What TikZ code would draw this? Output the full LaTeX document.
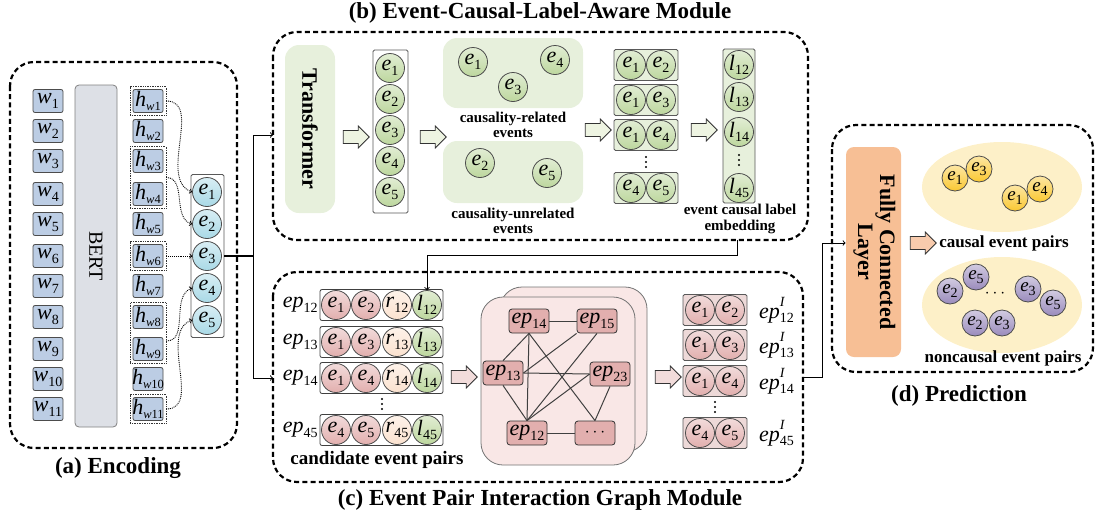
\documentclass[tikz,border=0pt]{standalone}
\usepackage{fontspec}
\setmainfont{Liberation Serif}
\usepackage{graphicx}
\usetikzlibrary{positioning,fit,shapes.arrows,shapes.geometric}

\definecolor{encBlue}{HTML}{BCCDE4}
\definecolor{encCyan}{HTML}{A9D9E6}
\definecolor{bertGray}{HTML}{DDE0E6}
\definecolor{clGreen}{HTML}{BDD79E}
\definecolor{clPale}{HTML}{E7F0DC}
\definecolor{arrGreen}{HTML}{EEF4E2}
\definecolor{epPink}{HTML}{E2AFAE}
\definecolor{epPale}{HTML}{EDD9D8}
\definecolor{epPeach}{HTML}{FBE2CF}
\definecolor{arrPink}{HTML}{F2DCDB}
\definecolor{graphBg}{HTML}{F9E7E6}
\definecolor{fcOrange}{HTML}{F7BF95}
\definecolor{arrOrange}{HTML}{F8CBAD}
\definecolor{predYellow}{HTML}{FDF0C8}
\definecolor{pairGold}{HTML}{FAC832}
\definecolor{pairViolet}{HTML}{9A8BBC}

% variable with index, set as text so it matches the serif body
\newcommand{\vfont}{\fontsize{22}{24}\selectfont}
\newcommand{\idx}[1]{\raisebox{-0.45ex}{\fontsize{14}{14}\selectfont #1}}
\newcommand{\vv}[2]{\textit{#1}\idx{#2}}
\newcommand{\hv}[1]{\textit{h}\raisebox{-0.45ex}{\fontsize{12.5}{12.5}\selectfont\textit{w}#1}}
\newcommand{\epI}[1]{\textit{ep}\rlap{\raisebox{1.15ex}{\fontsize{14}{14}\selectfont\textit{I}}}\idx{#1}}
% three stacked dots at a named coordinate
\newcommand{\colDots}[1]{\foreach \d in {-5,0,5} \fill ([yshift=\d pt]#1) circle (1.1pt);}

\tikzset{
  panel/.style={draw=black, line width=2.2pt, dash pattern=on 5pt off 3.2pt, rounded corners=24pt},
  title/.style={font=\fontsize{23}{25}\selectfont\bfseries},
  note/.style={font=\fontsize{15}{15.5}\selectfont\bfseries, align=center},
  caption/.style={font=\fontsize{17}{19}\selectfont\bfseries},
  tok/.style={draw=black!70, fill=encBlue, rounded corners=2pt, minimum width=30pt, minimum height=23pt, inner sep=0pt, font=\vfont},
  grp/.style={draw=black!80, densely dotted, line width=0.7pt, inner sep=2.5pt},
  ball/.style={circle, draw=black!70, minimum size=29pt, inner sep=0pt, font=\vfont, top color=#1!45, bottom color=#1},
  ball/.default=clGreen,
  smallball/.style={ball=#1, minimum size=26pt, font=\fontsize{19}{19}\selectfont},
  column/.style={draw=black!65, fill=clPale, rounded corners=1.5pt, inner sep=0pt},
  softbox/.style={fill=clPale, rounded corners=14pt, inner sep=0pt},
  hollow/.style={single arrow, draw=black!80, fill=#1, minimum height=26pt, minimum width=22pt, single arrow head extend=4pt, inner sep=5.5pt},
  gnode/.style={draw=black!80, fill=epPink, rounded corners=3pt, minimum width=40pt, minimum height=24pt, inner sep=1pt, font=\vfont},
  gedge/.style={draw=black!75, line width=1pt},
  conn/.style={draw=black, line width=1pt},
  dotarr/.style={->, densely dotted, line width=0.9pt},
}

\begin{document}
\begin{tikzpicture}[x=1pt,y=-1pt,>=to,line width=0.8pt]
\useasboundingbox (0,0) rectangle (1097,515);

% ---------- (a) encoding ----------
\draw[panel] (10,62) rectangle (237,448);
\node[title] (capA) at (118,468) {(a) Encoding};
\node[draw=black!50, fill=bertGray, rounded corners=4pt, minimum width=42pt, minimum height=342pt,
      font=\fontsize{20}{20}\selectfont] (bert) at (96,256) {\rotatebox{-90}{BERT}};
\foreach \i/\y in {1/101,2/131,3/161,4/194,5/224,6/256,7/286,8/317,9/349,10/379,11/409}{
  \node[tok] (w\i) at (48,\y) {\makebox[28pt]{\vv{w}{\i}}};
  \node[tok] (h\i) at (148,\y) {\makebox[27pt]{\hv{\i}}};
}
\node[grp, fit=(h1)] (g1) {};
\node[grp, fit=(h3)(h4)] (g2) {};
\node[grp, fit=(h6)] (g3) {};
\node[grp, fit=(h8)(h9)] (g4) {};
\node[grp, fit=(h11)] (g5) {};
\node[column, fill=white, minimum width=33pt, minimum height=163pt] (encCol) at (207.5,256) {};
\foreach \i/\y in {1/192,2/224,3/256,4/288,5/320}
  \node[ball=encCyan] (ea\i) at (207,\y) {\vv{e}{\i}};
\draw[dotarr] (g1.east) to[out=0,in=160] (ea1.west);
\draw[dotarr] (g2.east) to[out=0,in=165] (ea2.west);
\draw[dotarr] (g3.east) -- (ea3.west);
\draw[dotarr] ([yshift=-8pt]g4.east) to[out=0,in=200] (ea4.west);
\draw[dotarr] (g5.east) to[out=0,in=200] (ea5.west);

\coordinate (fork) at (253,256);
\coordinate (toB) at (273,135);
\coordinate (toC) at (273,378);
\draw[conn, line width=1.4pt] (encCol.east |- ea3) -- (fork);
\draw[conn,->] (fork) |- (toB);
\draw[conn,->] (fork) |- (toC);

% ---------- (b) event-causal-label-aware module ----------
\draw[panel] (273,32) rectangle (808,240);
\node[title] (capB) at (540,13) {(b) Event-Causal-Label-Aware Module};
\node[softbox, minimum width=50pt, minimum height=168pt, font=\fontsize{22}{22}\selectfont\bfseries]
  (trans) at (310,129) {\rotatebox{-90}{Transformer}};
\node[hollow=arrGreen] (ar1) at (353,137) {};
\node[column, fill=white, minimum width=35pt, minimum height=163pt] (ebCol) at (390.5,131.5) {};
\foreach \i/\y in {1/68,2/99,3/130,4/161,5/192}
  \node[ball] (eb\i) at (390,\y) {\vv{e}{\i}};
\node[hollow=arrGreen] (ar2) at (430,137) {};

\node[softbox, minimum width=140pt, minimum height=70pt] (relBox) at (513,73) {};
\node[ball] (rel1) at (473,62) {\vv{e}{1}};
\node[ball] (rel3) at (513,87) {\vv{e}{3}};
\node[ball] (rel4) at (555,60) {\vv{e}{4}};
\node[note] (relLbl) at (513,125) {causality-related\\events};
\node[softbox, minimum width=140pt, minimum height=62pt] (unrBox) at (513,172) {};
\node[ball] (unr2) at (480,163) {\vv{e}{2}};
\node[ball] (unr5) at (547,173) {\vv{e}{5}};
\node[note] (unrLbl) at (513,221) {causality-unrelated\\events};

\node[hollow=arrGreen] (ar3) at (595,130) {};
\foreach \i/\a/\b/\y in {1/1/2/65,2/1/3/100,3/1/4/135,4/4/5/188}{
  \node[column, minimum width=64pt, minimum height=31pt] (pb\i) at (646,\y) {};
  \node[ball] (pbA\i) at (631,\y) {\vv{e}{\a}};
  \node[ball] (pbB\i) at (661,\y) {\vv{e}{\b}};
}
\coordinate (pbDots) at (646,162);
\colDots{pbDots}
\node[hollow=arrGreen] (ar4) at (701,130) {};
\node[column, minimum width=32pt, minimum height=154pt] (lCol) at (739,126) {};
\foreach \i/\k/\y in {1/12/65,2/13/97,3/14/132,4/45/188}
  \node[ball] (lb\i) at (739,\y) {\vv{l}{\k}};
\coordinate (lDots) at (739,160);
\colDots{lDots}
\node[note] (lLbl) at (740,219) {event causal label\\embedding};

% ---------- (c) event pair interaction graph module ----------
\draw[panel] (273,272) rectangle (803,482);
\node[title] (capC) at (540,500) {(c) Event Pair Interaction Graph Module};
\foreach \i/\a/\b/\k/\y in {1/1/2/12/305,2/1/3/13/342,3/1/4/14/378,4/4/5/45/430}{
  \node[draw=black!75, fill=white, rounded corners=2pt, minimum width=123pt, minimum height=31pt] (cp\i) at (381.5,\y) {};
  \node[ball=epPink] (cpE\i) at (336,\y) {\vv{e}{\a}};
  \node[ball=epPink] (cpF\i) at (366,\y) {\vv{e}{\b}};
  \node[ball=epPeach] (cpR\i) at (397,\y) {\vv{r}{\k}};
  \node[ball=clGreen] (cpL\i) at (427,\y) {\vv{l}{\k}};
  \node[font=\vfont, anchor=east, inner sep=1.5pt] (cpN\i) at (cp\i.west) {\vv{ep}{\k}};
}
\coordinate (cpDots) at (382,404);
\colDots{cpDots}
\node[caption, font=\fontsize{19}{20}\selectfont\bfseries] (candLbl) at (377,460) {candidate event pairs};

\coordinate (bOut) at (737,240);
\draw[conn,->] (bOut) -- (737,255) -| (cpL1.north);

\node[hollow=arrPink] (ar5) at (461,377) {};
\node[draw=black!55, fill=graphBg, rounded corners=22pt, minimum width=147pt, minimum height=165pt] (gBack) at (573.5,369.5) {};
\node[draw=black!55, fill=graphBg, rounded corners=22pt, minimum width=154pt, minimum height=168pt] (gFront) at (558,381) {};
\node[gnode] (ep14) at (529,321) {\vv{ep}{14}};
\node[gnode] (ep15) at (597,321) {\vv{ep}{15}};
\node[gnode] (ep13) at (503,373) {\vv{ep}{13}};
\node[gnode] (ep23) at (610,374) {\vv{ep}{23}};
\node[gnode] (ep12) at (527,433) {\vv{ep}{12}};
\node[gnode, font=\fontsize{16}{16}\selectfont] (epMore) at (595,433) {$\cdots$};
\draw[gedge] (ep14) -- (ep15);
\draw[gedge] (ep14.south) -- (ep13.north);
\draw[gedge] (ep14.south) -- (ep12.north);
\draw[gedge] (ep14.south) -- (epMore.north);
\draw[gedge] (ep13.east) -- (ep15.south west);
\draw[gedge] (ep13.east) -- (ep23.west);
\draw[gedge] (ep13.south) -- (ep12.north);
\draw[gedge] (ep12.north) -- (ep15.south);
\draw[gedge] (ep12.north) -- (ep23.west);
\draw[gedge] (ep12) -- (epMore);
\draw[gedge] (ep23.south) -- (epMore.north);

\node[hollow=arrPink] (ar6) at (665,377) {};
\foreach \i/\a/\b/\k/\y in {1/1/2/12/310,2/1/3/13/345,3/1/4/14/381,4/4/5/45/433}{
  \node[column, fill=epPale, minimum width=64pt, minimum height=31pt] (op\i) at (715,\y) {};
  \node[ball=epPink] (opA\i) at (700,\y) {\vv{e}{\a}};
  \node[ball=epPink] (opB\i) at (730,\y) {\vv{e}{\b}};
  \node[font=\vfont, right=8pt of op\i] (opN\i) {\epI{\k}};
}
\coordinate (opDots) at (715,407);
\colDots{opDots}

% ---------- (d) prediction ----------
\draw[panel] (832,125) rectangle (1093,372);
\node[title] (capD) at (959,396) {(d) Prediction};
\node[fill=fcOrange, rounded corners=8pt, minimum width=55pt, minimum height=210pt,
      font=\fontsize{22}{22}\selectfont\bfseries] (fc) at (873.5,252)
  {\rotatebox{-90}{\begin{tabular}{@{}c@{}}Fully Connected\\Layer\end{tabular}}};
\coordinate (cOut) at (803,377);
\draw[conn,->] (cOut) -- (822,377) |- ([yshift=9pt]fc.west);

\node[hollow=arrOrange] (ar7) at (920,243) {};
\node[ellipse, fill=predYellow, minimum width=160pt, minimum height=90pt] (causal) at (1002,187) {};
\node[ellipse, fill=predYellow, minimum width=160pt, minimum height=96pt] (noncausal) at (1002,305) {};
\node[smallball=pairGold] (ca1) at (955,178) {\vv{e}{1}};
\node[smallball=pairGold] (ca3) at (979,169) {\vv{e}{3}};
\node[smallball=pairGold] (cb1) at (1015,198) {\vv{e}{1}};
\node[smallball=pairGold] (cb4) at (1040,189) {\vv{e}{4}};
\node[caption] (causalLbl) at (1004,243) {causal event pairs};
\node[smallball=pairViolet] (na2) at (950,291) {\vv{e}{2}};
\node[smallball=pairViolet] (na5) at (976,277) {\vv{e}{5}};
\node[inner sep=0pt, font=\fontsize{16}{16}\selectfont] (nDots) at (995,294) {$\cdots$};
\node[smallball=pairViolet] (nb3) at (1028,289) {\vv{e}{3}};
\node[smallball=pairViolet] (nb5) at (1053,303) {\vv{e}{5}};
\node[smallball=pairViolet] (nc2) at (975,323) {\vv{e}{2}};
\node[smallball=pairViolet] (nc3) at (1002,323) {\vv{e}{3}};
\node[caption] (noncLbl) at (1003,358) {noncausal event pairs};
\end{tikzpicture}
\end{document}
